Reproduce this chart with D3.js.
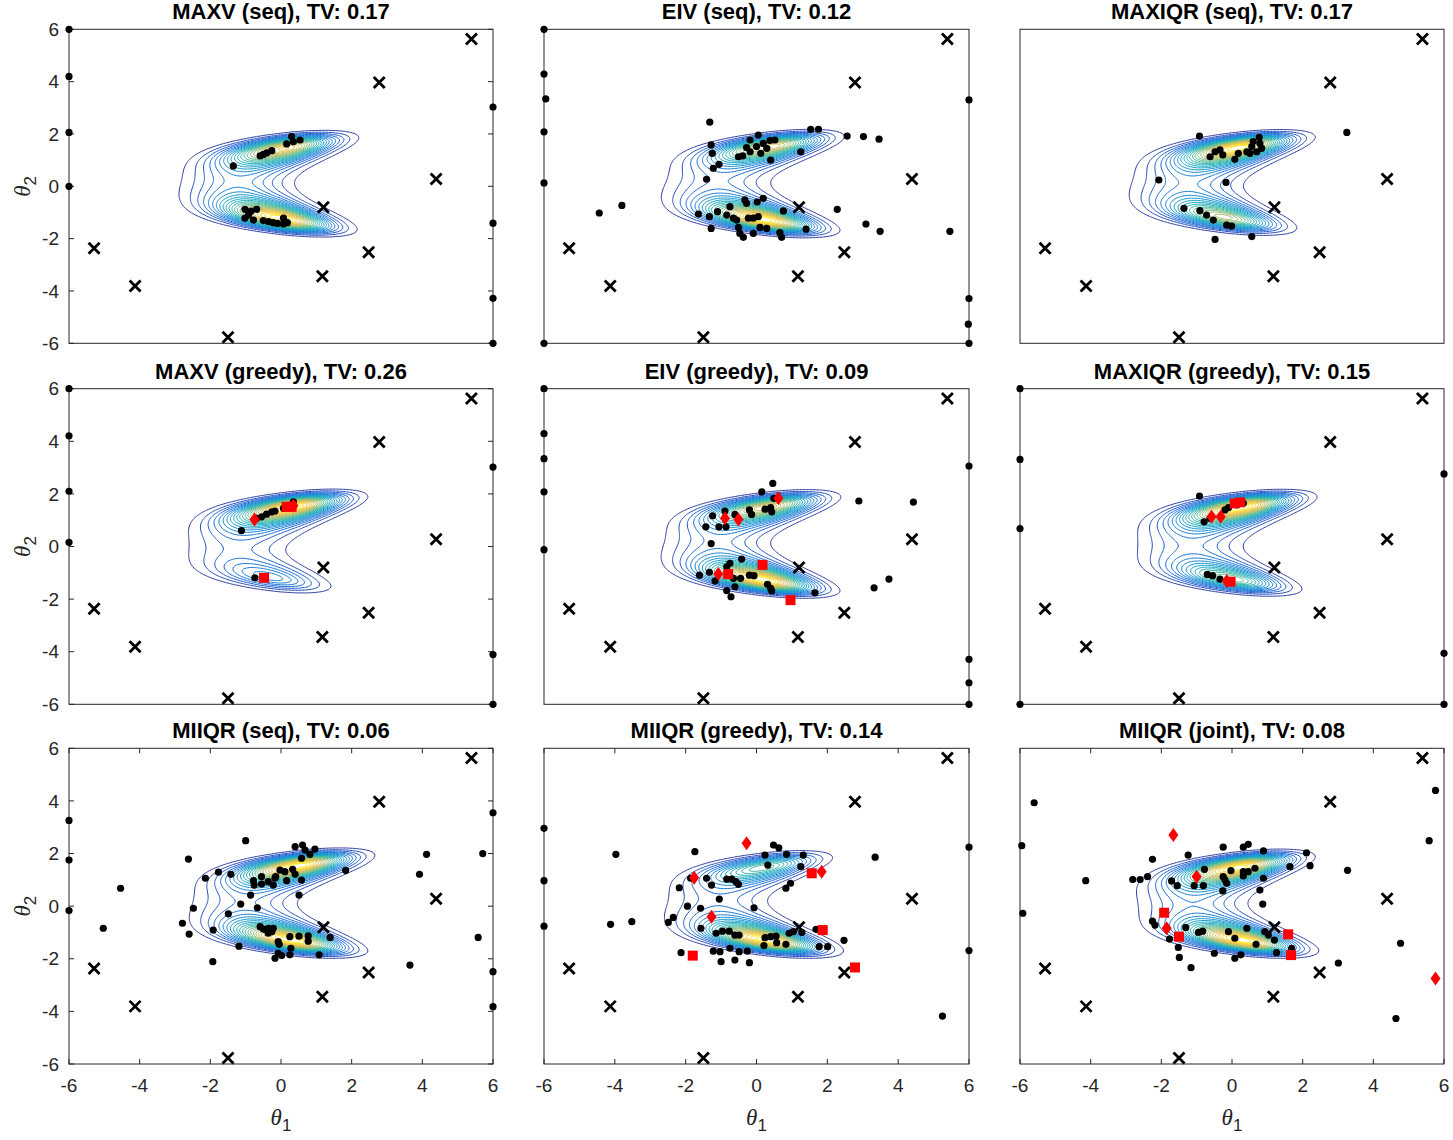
<!DOCTYPE html>
<html><head><meta charset="utf-8">
<script src="https://cdn.jsdelivr.net/npm/d3@7"></script>
<style>body{margin:0;background:#fff} text{font-family:"Liberation Sans",Arial,Helvetica,sans-serif;fill:#262626}</style>
</head><body><svg id="c" width="1453" height="1140"></svg>
<script>
const panelTitles = ["MAXV (seq), TV: 0.17","EIV (seq), TV: 0.12","MAXIQR (seq), TV: 0.17",
  "MAXV (greedy), TV: 0.26","EIV (greedy), TV: 0.09","MAXIQR (greedy), TV: 0.15",
  "MIIQR (seq), TV: 0.06","MIIQR (greedy), TV: 0.14","MIIQR (joint), TV: 0.08"];
const tickValues = [-6,-4,-2,0,2,4,6];
const designPoints = [[-5.29,-2.37],[-4.13,-3.81],[-1.5,-5.77],[1.17,-3.44],[1.2,-0.8],[2.48,-2.52],[2.78,3.97],[4.39,0.28],[5.39,5.63]];
// relative height and peak location of the two posterior lobes, per panel
const lobeUpperWeight = [0.85,0.8,1.0,1.0,0.8,1.0,1.0,0.55,1.0];
const lobeLowerWeight = [1.0,1.0,0.7,0.3,1.0,0.6,1.0,1.0,1.0];
const lobeUpperCenter = [0.1,0.4,0.2,0.3,0.3,0.25,0.5,0.2,0.2];
const lobeLowerCenter = [0.0,0.2,-0.2,-0.3,0.2,0.0,0.3,0.3,0.3];

const dotsMaxvSeq = [[-6,6],[-6,4.2],[-6,2.06],[-6,0],[6,3.03],[6,-1.41],[6,-4.28],[6,-6],[-1.35,0.78],
 [-0.59,1.16],[-0.5,1.22],[-0.4,1.28],[-0.26,1.36],[0.16,1.62],[0.3,1.9],[0.54,1.77],[0.35,1.7],
 [-1.02,-0.88],[-0.69,-0.88],[-1.02,-1.22],[-0.92,-1.1],[-0.78,-1.29],[-0.5,-1.31],[-0.22,-1.39],[0.07,-1.44],[0.18,-1.39],[0.07,-1.22],[-0.85,-0.95],[-0.35,-1.35],[-0.1,-1.42]];
const dotsEivSeq = [[-6,6],[-6,4.29],[-5.95,3.34],[-6,2.08],[-6,0.13],[6,3.3],[6,-4.29],[5.98,-5.27],[6,-6],[-6,-6],
 [-4.44,-1.02],[-3.8,-0.73],[-1.32,2.45],[-1.28,1.58],[-1.25,1.26],[-1.22,0.69],[-1.06,0.84],[-1.41,0.27],
 [-0.51,1.13],[-0.39,1.16],[-0.28,1.48],[-0.18,1.77],[0.05,1.96],[0.12,1.26],[0.19,1.64],[0.29,1.45],[0.38,1.75],[0.52,1.77],[0.4,1.0],[-0.18,1.32],[0.0,1.52],
 [1.25,1.32],[1.53,2.18],[1.75,2.18],[2.56,1.92],[3.02,1.9],[3.46,1.8],
 [-1.64,-1.06],[-1.33,-1.16],[-1.1,-0.97],[-1.28,-1.61],[-0.75,-0.78],[-0.84,-1.1],[-0.65,-1.22],[-0.56,-1.29],[-0.51,-1.57],[-0.47,-1.8],[-0.37,-1.95],
 [-0.33,-0.52],[-0.28,-0.65],[-0.23,-1.22],[-0.09,-1.22],[0.05,-1.16],[0.02,-0.6],[0.19,-0.46],[0.1,-1.57],[0.29,-1.61],[-0.09,-1.8],[0.66,-1.77],[0.71,-1.95],[0.76,-0.94],
 [1.4,-1.64],[2.28,-0.88],[3.09,-1.44],[3.49,-1.72],[5.46,-1.72]];
const dotsMaxiqrSeq = [[-0.92,1.92],[-2.07,0.24],[-0.17,0.15],[3.25,2.06],
 [-0.62,1.13],[-0.48,1.32],[-0.34,1.39],[-0.26,1.2],[0.08,1.03],[0.18,1.26],[0.42,1.32],[0.56,1.52],[0.6,1.71],[0.77,1.87],[0.84,1.45],[0.7,1.32],[0.51,1.26],[0.79,1.64],
 [-1.36,-0.84],[-0.91,-0.93],[-0.72,-1.1],[-0.53,-1.29],[-0.15,-1.48],[-0.01,-1.52],[-0.48,-2.03],[0.56,-1.92]];
const dotsMaxvGreedy = [[-6,6],[-6,4.21],[-6,2.1],[-6,0.16],[6,3.02],[6,-4.11],[6,-6],[-1.12,0.6],[-0.74,-1.19],
 [-0.69,1.07],[-0.55,1.13],[-0.41,1.23],[-0.26,1.32],[-0.17,1.35],[0.07,1.45],[0.35,1.7]];
const squaresMaxvGreedy = [[-0.48,-1.19],[0.16,1.51],[0.3,1.51]];
const diamondsMaxvGreedy = [[-0.75,1.03],[0.35,1.55]];
const dotsEivGreedy = [[-6,6],[-6,4.29],[-6,3.34],[-6,2.08],[-6,-0.12],[6,3.06],[6,-4.29],[6,-5.18],[6,-6],
 [0.46,2.4],[0.15,2.08],[-1.24,1.17],[-0.89,1.35],[-0.61,1.22],[-0.2,1.39],[-0.14,1.22],[0.24,1.42],[0.4,1.48],[0.43,1.32],[0.49,1.83],
 [-1.43,0.75],[-1.06,0.75],[-0.86,0.75],[-1.28,0.11],[2.89,1.73],[4.43,1.69],
 [-0.42,-0.48],[-0.75,-0.64],[-0.84,-0.77],[-1.61,-1.09],[-1.33,-0.98],[-1.17,-1.31],[-0.65,-1.21],[-0.45,-1.21],[-0.61,-1.53],[-0.84,-1.68],[-0.72,-1.91],
 [-0.2,-1.09],[-0.07,-1.11],[0.31,-1.44],[0.4,-1.59],[0.43,-1.69],[1.65,-1.76],[3.32,-1.57],[3.74,-1.24]];
const squaresEivGreedy = [[-0.8,-1.05],[0.17,-0.7],[0.96,-2.04]];
const diamondsEivGreedy = [[0.62,1.83],[-0.89,1.07],[-0.51,1.03],[-1.08,-1.05]];
const dotsMaxiqrGreedy = [[-6,6],[-6,3.31],[-6,0.68],[-6,-6],[6,2.76],[6,-4.06],[6,-6],[-0.92,1.92],
 [-0.79,0.94],[-0.62,1.07],[-0.2,1.39],[-0.1,1.48],[0.13,1.58],[0.32,1.64],
 [-0.7,-1.06],[-0.55,-1.11],[-0.34,-1.24]];
const squaresMaxiqrGreedy = [[0.08,1.64],[0.23,1.68],[-0.04,-1.34]];
const diamondsMaxiqrGreedy = [[-0.58,1.13],[-0.32,1.13],[-0.15,-1.31]];
const dotsMiiqrSeq = [[-6,3.26],[-6,1.75],[-6,-0.17],[6,3.55],[6,-2.49],[6,-3.82],[-5.03,-0.84],[-4.54,0.68],
 [-2.62,1.79],[-2.6,-1.06],[-2.79,-0.65],[-2.48,-0.08],[-2.14,1.06],[-1.77,1.29],[-1.42,1.21],[-1.0,2.49],[-1.92,-0.91],[-1.93,-2.11],[-1.49,-0.29],[-1.19,-1.52],[-1.14,0.08],
 [-0.86,0.42],[-0.67,-0.06],[-0.78,0.97],[-0.76,0.8],[-0.55,1.12],[-0.55,0.84],[-0.36,0.93],[-0.22,0.8],[-0.17,1.06],[-0.15,1.12],[-0.03,1.37],[0.11,1.31],[0.16,0.97],[0.33,1.4],[0.4,1.21],
 [0.4,2.26],[0.61,2.32],[0.58,1.82],[0.68,2.13],[0.82,1.97],[0.96,2.17],[0.58,0.99],[0.51,0.42],[1.83,1.36],
 [-0.59,-0.78],[-0.5,-0.87],[-0.41,-0.91],[-0.36,-0.84],[-0.26,-0.97],[-0.22,-0.84],[-0.36,-1.03],[-0.08,-1.35],[-0.05,-1.45],[0.25,-1.16],[0.28,-1.6],[0.51,-1.14],[0.77,-1.13],[0.77,-1.33],
 [-0.08,-1.79],[0.02,-1.88],[-0.17,-1.98],[0.25,-1.85],[1.08,-1.85],[1.39,-1.19],[3.65,-2.24],[3.92,1.21],[4.12,1.97],[5.58,-1.19],[5.71,2.0]];
const dotsMiiqrGreedy = [[-6,2.96],[-6,0.97],[-6,-0.76],[6,2.24],[6,-1.69],[5.25,-4.18],[-3.97,1.97],[-4.12,-0.69],[-3.52,-0.59],[-2.49,-0.62],[-2.35,-0.43],[-2.18,0.7],[-1.95,0.0],[-1.74,2.07],[-2.13,-1.77],
 [-1.86,1.06],[-1.58,-0.08],[-1.41,1.06],[-1.27,0.8],[-1.05,0.27],[-1.57,-0.84],[-1.14,-1.03],[-0.96,-0.95],[-0.77,-0.95],[-0.61,-1.1],[-0.49,-1.1],[-1.22,-1.71],[-1.03,-1.73],[-1.0,-2.11],[-0.75,-1.6],[-0.61,-2.05],[-0.49,-1.73],[-0.26,-1.71],[-0.2,-2.15],
 [-0.84,1.03],[-0.7,1.03],[-0.58,0.93],[-0.51,0.83],[-0.07,-0.06],[0.24,1.94],[0.32,1.56],[0.48,2.32],[0.63,2.22],[0.85,1.97],[1.32,1.94],[1.25,1.5],[0.96,0.87],[0.83,0.68],
 [0.24,-1.2],[0.4,-1.16],[0.55,-1.14],[0.57,-1.39],[0.21,-1.5],[0.83,-1.45],[0.92,-1.03],[1.04,-0.97],[1.28,-1.0],[1.68,-0.88],[1.77,-1.54],[2.01,-1.54],[2.47,-1.3],[3.35,1.86]];
const squaresMiiqrGreedy = [[1.56,1.25],[1.87,-0.91],[-1.8,-1.88],[2.78,-2.33]];
const diamondsMiiqrGreedy = [[-0.28,2.39],[-1.76,1.08],[-1.27,-0.4],[1.84,1.31]];
const dotsMiiqrJoint = [[-5.95,2.3],[-5.92,-0.27],[-5.6,3.93],[-4.14,0.97],[5.76,4.4],[5.58,2.49],[4.77,-1.41],[4.64,-4.27],[3.27,1.36],[3.01,-2.16],[2.11,2.03],[2.21,1.54],[1.64,1.5],
 [-2.81,1.01],[-2.6,1.01],[-2.39,1.12],[-2.25,1.78],[-1.71,0.96],[-1.55,0.78],[-1.24,1.94],[-2.25,-0.57],[-2.18,-0.72],[-1.77,-1.25],[-1.52,-1.57],[-1.49,-1.95],[-1.16,-2.34],[-1.31,-0.81],[-0.95,-1.0],[-0.83,-0.95],
 [-1.07,0.78],[-0.81,0.78],[-0.78,1.4],[-0.25,2.24],[0.32,2.24],[0.46,2.35],[0.89,2.1],[-0.25,1.12],[-0.2,1.0],[-0.15,0.87],[-0.26,0.58],[-0.03,1.35],[0.32,1.31],[0.32,1.15],[0.46,1.31],[0.65,1.44],[0.89,1.06],[0.79,0.61],[0.87,0.08],
 [-0.1,-0.97],[0.08,-1.22],[0.42,-0.84],[0.68,-1.45],[0.93,-0.97],[1.03,-1.1],[1.2,-1.29],[1.26,-1.77],[1.69,-1.6],[-0.5,-1.79],[0.08,-1.98],[0.25,-1.85]];
const squaresMiiqrJoint = [[-1.92,-0.25],[-1.5,-1.16],[1.59,-1.07],[1.67,-1.86]];
const diamondsMiiqrJoint = [[-1.66,2.7],[-1.0,1.12],[-1.85,-0.84],[5.76,-2.75]];

const panelDots = [dotsMaxvSeq,dotsEivSeq,dotsMaxiqrSeq,dotsMaxvGreedy,dotsEivGreedy,dotsMaxiqrGreedy,dotsMiiqrSeq,dotsMiiqrGreedy,dotsMiiqrJoint];
const panelSquares = [[],[],[],squaresMaxvGreedy,squaresEivGreedy,squaresMaxiqrGreedy,[],squaresMiiqrGreedy,squaresMiiqrJoint];
const panelDiamonds = [[],[],[],diamondsMaxvGreedy,diamondsEivGreedy,diamondsMaxiqrGreedy,[],diamondsMiiqrGreedy,diamondsMiiqrJoint];

function profile(x, c) {
  const s = x < c ? 1.15 : 0.85;
  return Math.exp(-((x - c) ** 2) / (2 * s * s));
}
function density(x, y, p) {
  const u = y - 0.1;
  const c = 1.75 + 0.6 * x;
  const r = u * u - c;
  const L = Math.exp(-r * r / (2 * 0.8 * 0.8));
  const S = 1 / (1 + Math.exp(-4 * u));
  return L * (lobeUpperWeight[p] * S * profile(x, lobeUpperCenter[p]) + lobeLowerWeight[p] * (1 - S) * profile(x, lobeLowerCenter[p]));
}

const parula = d3.interpolateRgbBasis(["#352a87","#0f5cdd","#1481d6","#06a4ca","#2eb7a4","#87bf77","#d1bb59","#fec832","#f9fb0e"]);
const colLeft = [69, 544, 1020], colRight = [493, 969, 1444];
const rowTop = [29.3, 388.7, 748.3], rowBottom = [343.3, 704.3, 1064];
const svg = d3.select("#c");
const N = 300, nLevels = 24;

panelTitles.forEach((title, p) => {
  const col = p % 3, row = Math.floor(p / 3);
  const xs = d3.scaleLinear().domain([-6, 6]).range([colLeft[col], colRight[col]]);
  const ys = d3.scaleLinear().domain([-6, 6]).range([rowBottom[row], rowTop[row]]);
  const g = svg.append("g");
  const vals = new Float64Array(N * N);
  for (let j = 0; j < N; j++) for (let i = 0; i < N; i++) {
    vals[j * N + i] = density(-6 + (i + 0.5) * 12 / N, -6 + (j + 0.5) * 12 / N, p);
  }
  const mx = d3.max(vals);
  const levels = d3.range(1, nLevels + 1).map(k => mx * k / (nLevels + 1));
  const conts = d3.contours().size([N, N]).thresholds(levels)(vals);
  const proj = d3.geoTransform({point(x, y) { this.stream.point(xs(-6 + x * 12 / N), ys(-6 + y * 12 / N)); }});
  const path = d3.geoPath(proj);
  g.selectAll("path.ct").data(conts).join("path").attr("class", "ct")
    .attr("d", path).attr("fill", "none")
    .attr("stroke", (d, k) => parula((k + 1) / (nLevels + 1))).attr("stroke-width", 1);
  g.append("rect").attr("x", xs(-6)).attr("y", ys(6)).attr("width", xs(6) - xs(-6)).attr("height", ys(-6) - ys(6))
    .attr("fill", "none").attr("stroke", "#262626").attr("stroke-width", 1);
  if (col === 0) {
    tickValues.forEach(v => {
      g.append("line").attr("x1", xs(-6)).attr("x2", xs(-6) + 5).attr("y1", ys(v)).attr("y2", ys(v)).attr("stroke", "#262626");
      g.append("line").attr("x1", xs(6)).attr("x2", xs(6) - 5).attr("y1", ys(v)).attr("y2", ys(v)).attr("stroke", "#262626");
      g.append("text").attr("x", xs(-6) - 10).attr("y", ys(v)).attr("dy", "0.35em").attr("text-anchor", "end")
        .attr("font-size", 19).text(v);
    });
    g.append("text").attr("transform", `translate(30,${(rowTop[row] + rowBottom[row]) / 2}) rotate(-90)`)
      .attr("text-anchor", "middle").attr("font-size", 23)
      .call(t => { t.append("tspan").attr("font-family", "Liberation Serif").attr("font-style", "italic").text("θ");
                   t.append("tspan").attr("dy", 6).attr("font-size", 17).text("2"); });
  }
  if (row === 2) {
    tickValues.forEach(v => {
      g.append("line").attr("y1", ys(-6)).attr("y2", ys(-6) - 5).attr("x1", xs(v)).attr("x2", xs(v)).attr("stroke", "#262626");
      g.append("line").attr("y1", ys(6)).attr("y2", ys(6) + 5).attr("x1", xs(v)).attr("x2", xs(v)).attr("stroke", "#262626");
      g.append("text").attr("x", xs(v)).attr("y", ys(-6) + 28).attr("text-anchor", "middle")
        .attr("font-size", 19).text(v);
    });
    g.append("text").attr("x", (colLeft[col] + colRight[col]) / 2).attr("y", 1125)
      .attr("text-anchor", "middle").attr("font-size", 23)
      .call(t => { t.append("tspan").attr("font-family", "Liberation Serif").attr("font-style", "italic").text("θ");
                   t.append("tspan").attr("dy", 6).attr("font-size", 17).text("1"); });
  }
  g.append("text").attr("x", (colLeft[col] + colRight[col]) / 2).attr("y", rowTop[row] - 10)
    .attr("text-anchor", "middle").attr("font-size", 22).attr("font-weight", "bold").style("fill", "#000").text(title);
  g.selectAll("circle.d").data(panelDots[p]).join("circle").attr("class", "d")
    .attr("cx", d => xs(d[0])).attr("cy", d => ys(d[1])).attr("r", 3.6).attr("fill", "#000");
  g.selectAll("path.x").data(designPoints).join("path").attr("class", "x")
    .attr("d", d => { const x = xs(d[0]), y = ys(d[1]), s = 5.5; return `M${x - s},${y - s}L${x + s},${y + s}M${x - s},${y + s}L${x + s},${y - s}`; })
    .attr("stroke", "#000").attr("stroke-width", 2.8);
  g.selectAll("rect.sq").data(panelSquares[p]).join("rect").attr("class", "sq")
    .attr("x", d => xs(d[0]) - 5).attr("y", d => ys(d[1]) - 5).attr("width", 10).attr("height", 10).attr("fill", "#f00");
  g.selectAll("path.dm").data(panelDiamonds[p]).join("path").attr("class", "dm")
    .attr("d", d => { const x = xs(d[0]), y = ys(d[1]); return `M${x},${y - 7}L${x + 5},${y}L${x},${y + 7}L${x - 5},${y}Z`; })
    .attr("fill", "#f00");
});
</script></body></html>
